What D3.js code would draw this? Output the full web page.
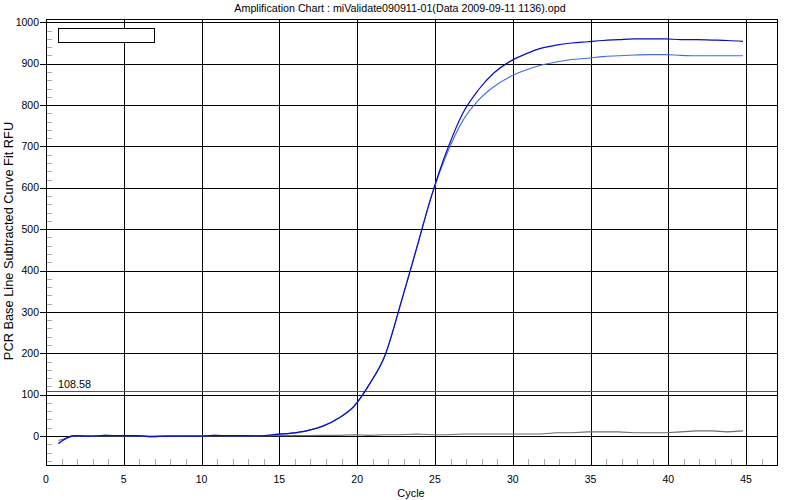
<!DOCTYPE html>
<html>
<head>
<meta charset="utf-8">
<script src="https://cdn.jsdelivr.net/npm/d3@7"></script>
<style>
  html, body { margin: 0; padding: 0; background: #fff; }
  svg { display: block; font-family: "Liberation Sans", Arial, sans-serif; }
</style>
</head>
<body>
<svg id="chart" width="800" height="500"></svg>
<script>
// ---------- data ----------
const chartTitle = "Amplification Chart : miValidate090911-01(Data 2009-09-11 1136).opd";
const xLabel = "Cycle";
const yLabel = "PCR Base Line Subtracted Curve Fit RFU";
const thresholdValue = 108.58;
const thresholdLabel = "108.58";

const cycles = [0.8, 1.8, 2.8, 3.8, 4.8, 5.8, 6.8, 7.8, 8.8, 9.8,
  10.8, 11.8, 12.8, 13.8, 14.8, 15.8, 16.8, 17.8, 18.8, 19.8,
  20.8, 21.8, 22.8, 23.8, 24.8, 25.8, 26.8, 27.8, 28.8, 29.8,
  30.8, 31.8, 32.8, 33.8, 34.8, 35.8, 36.8, 37.8, 38.8, 39.8,
  40.8, 41.8, 42.8, 43.8, 44.8];

const sampleA = [-18, 1, 0, 1.5, 1, 1, -1.5, 0, 0, 0,
  1.5, 1, 1, 0.5, 4, 7, 13, 24, 43, 72,
  126, 196, 320, 451, 583, 693, 781, 837, 878, 905,
  923, 937, 945, 950, 953, 956, 958, 960, 960, 960,
  958, 958, 957, 956, 954];

const sampleB = [-18, 1, 0, 1.5, 1, 1, -1.5, 0, 0, 0,
  1.5, 1, 1, 0.5, 4, 7, 13, 24, 43, 72,
  126, 196, 320, 451, 583, 685, 763, 812, 845, 868,
  884, 896, 904, 910, 913, 917, 919, 921, 922, 922,
  920, 919, 919, 919, 919];

const sampleC = [-11, 0, 0, 0, 0, 0, 0, 0, 0, 0,
  0, 0, 0, 0, 1, 1, 1, 1.5, 1.5, 3,
  1.5, 3, 3, 5, 3, 3, 5, 5, 5, 5,
  5, 5, 8, 8, 10, 10, 10, 8, 8, 8,
  10, 12.5, 12.5, 10, 12.5];

const xMajorTicks = [0, 5, 10, 15, 20, 25, 30, 35, 40, 45];
const yMajorTicks = [0, 100, 200, 300, 400, 500, 600, 700, 800, 900, 1000];

// ---------- layout ----------
const svg = d3.select("#chart");
const pLeft = 46, pRight = 778, pTop = 19, pBottom = 465;

const x = d3.scaleLinear().domain([0, 47.05]).range([pLeft, pRight]);
const y = d3.scaleLinear().domain([-70, 1008]).range([pBottom, pTop]);

const xMinor = d3.range(1, 47).filter(v => v % 5 !== 0);
const yMinor = d3.range(-60, 1001, 20).filter(v => v % 100 !== 0);

svg.append("rect").attr("x", 0).attr("y", 0).attr("width", 800).attr("height", 500).attr("fill", "#fff");

const crisp = v => Math.round(v) + 0.5;

// minor ticks
svg.append("g").selectAll("line").data(yMinor).join("line")
  .attr("x1", pLeft).attr("x2", pLeft + 6)
  .attr("y1", d => crisp(y(d))).attr("y2", d => crisp(y(d)))
  .attr("stroke", "#a8a8a8").attr("stroke-width", 1);
svg.append("g").selectAll("line").data(xMinor).join("line")
  .attr("x1", d => crisp(x(d))).attr("x2", d => crisp(x(d)))
  .attr("y1", pBottom).attr("y2", pBottom - 6)
  .attr("stroke", "#a8a8a8").attr("stroke-width", 1);

// major grid
svg.append("g").selectAll("line").data(yMajorTicks).join("line")
  .attr("x1", pLeft - 6).attr("x2", pRight)
  .attr("y1", d => crisp(y(d))).attr("y2", d => crisp(y(d)))
  .attr("stroke", "#000").attr("stroke-width", 1);
svg.append("g").selectAll("line").data(xMajorTicks.filter(d => d > 0)).join("line")
  .attr("x1", d => crisp(x(d))).attr("x2", d => crisp(x(d)))
  .attr("y1", pTop).attr("y2", pBottom)
  .attr("stroke", "#000").attr("stroke-width", 1);

// frame
svg.append("rect")
  .attr("x", pLeft + 0.5).attr("y", pTop + 0.5)
  .attr("width", pRight - pLeft - 1).attr("height", pBottom - pTop)
  .attr("fill", "none").attr("stroke", "#000").attr("stroke-width", 1);

// tick labels
svg.append("g").selectAll("text").data(yMajorTicks).join("text")
  .attr("x", 39).attr("y", d => y(d)).attr("dy", "0.35em")
  .attr("text-anchor", "end").attr("font-size", "10.5px").attr("fill", "#000")
  .text(d => d);
svg.append("g").selectAll("text").data(xMajorTicks).join("text")
  .attr("x", d => x(d)).attr("y", 483)
  .attr("text-anchor", "middle").attr("font-size", "10.5px").attr("fill", "#000")
  .text(d => d);

// threshold
svg.append("line")
  .attr("x1", pLeft + 1).attr("x2", pRight - 1)
  .attr("y1", crisp(y(thresholdValue))).attr("y2", crisp(y(thresholdValue)))
  .attr("stroke", "#1f7a1f").attr("stroke-width", 1);
svg.append("text").attr("x", 58).attr("y", 388)
  .attr("font-size", "10.8px").attr("fill", "#000").text(thresholdLabel);

// curves
const line = (vals, curve) => d3.line()
  .curve(curve)
  .x((d, i) => x(cycles[i]))
  .y(d => y(d))(vals);

svg.append("path").attr("d", line(sampleC, d3.curveLinear))
  .attr("fill", "none").attr("stroke", "#6e6e6e").attr("stroke-width", 1.1);
svg.append("path").attr("d", line(sampleB, d3.curveMonotoneX))
  .attr("fill", "none").attr("stroke", "#3f6ee6").attr("stroke-width", 1.1);
svg.append("path").attr("d", line(sampleA, d3.curveMonotoneX))
  .attr("fill", "none").attr("stroke", "#0a0ac8").attr("stroke-width", 1.2);

// legend box (empty)
svg.append("rect").attr("x", 58.5).attr("y", 28.5).attr("width", 96).attr("height", 14)
  .attr("fill", "#fff").attr("stroke", "#000").attr("stroke-width", 1);

// titles
svg.append("text").attr("x", 400).attr("y", 11.5)
  .attr("text-anchor", "middle").attr("font-size", "10.7px").attr("fill", "#000")
  .text(chartTitle);
svg.append("text").attr("x", 411).attr("y", 497)
  .attr("text-anchor", "middle").attr("font-size", "11px").attr("fill", "#000")
  .text(xLabel);
svg.append("text")
  .attr("transform", "translate(13,241) rotate(-90)")
  .attr("text-anchor", "middle").attr("font-size", "12.8px").attr("fill", "#000")
  .text(yLabel);
</script>
</body>
</html>
